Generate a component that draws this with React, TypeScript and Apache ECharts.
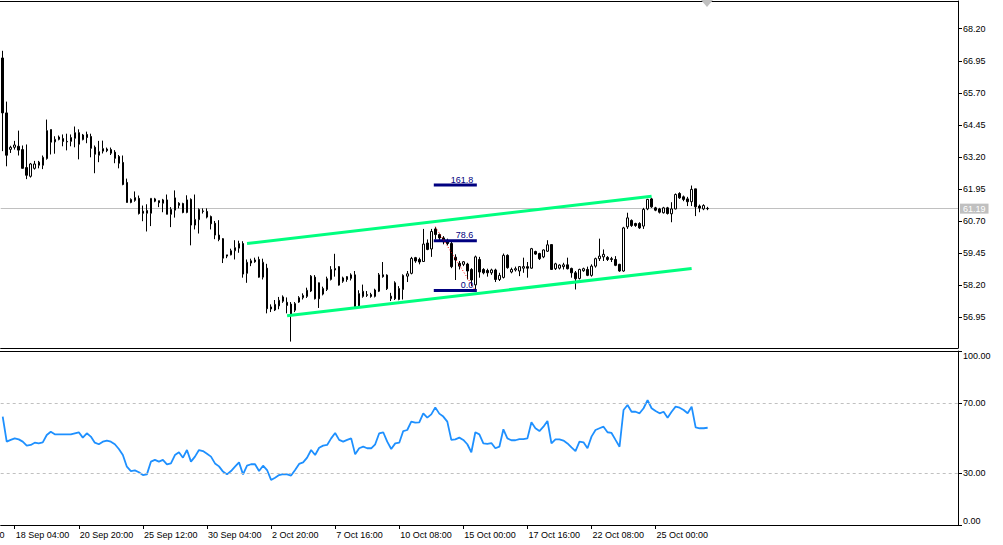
import React, { useEffect, useRef } from 'react';
import * as echarts from 'echarts';

const FONT = 'Liberation Sans';
const BAR_SLOTS = 239;
const CATEGORIES = Array.from({ length: BAR_SLOTS }, (_, i) => `bar ${i}`);
const TICK_BARS = [3, 19, 35, 51, 67, 83, 99, 115, 131, 147, 163];
const TICK_LABELS = ['18 Sep 04:00', '20 Sep 20:00', '25 Sep 12:00', '30 Sep 04:00', '2 Oct 20:00', '7 Oct 16:00', '10 Oct 08:00', '15 Oct 00:00', '17 Oct 16:00', '22 Oct 08:00', '25 Oct 00:00'];
const PRICE_TICKS = [56.95, 58.2, 59.45, 60.7, 61.95, 63.2, 64.45, 65.7, 66.95, 68.2];
const RSI_TICKS = [0, 30, 70, 100];
const RSI_LEVELS = [70, 30];
const LAST_PRICE = 61.19;

// [open, high, low, close]
const OHLC: number[][] = [
  [67.06, 67.34, 63.43, 64.92], [64.92, 65.36, 62.84, 63.27], [63.5, 63.64, 63.36, 63.58], [63.58, 63.83, 63.49, 63.67],
  [63.62, 64.23, 63.26, 63.47], [63.49, 63.65, 62.76, 62.76], [62.79, 63.69, 62.34, 62.49], [62.45, 62.97, 62.4, 62.93],
  [62.76, 63.05, 62.71, 62.93], [62.88, 63.05, 62.76, 63.0], [62.88, 63.26, 62.73, 63.19], [63.14, 64.66, 63.1, 64.23],
  [64.27, 64.27, 63.3, 63.78], [63.79, 64.01, 63.33, 63.89], [63.98, 64.04, 63.85, 63.89], [63.92, 64.08, 63.62, 63.81],
  [63.81, 64.11, 63.46, 63.79], [63.81, 64.08, 63.62, 63.96], [63.93, 64.39, 63.58, 64.15], [64.15, 64.28, 63.11, 63.7],
  [63.88, 64.1, 63.85, 64.06], [64.08, 64.19, 63.74, 63.96], [64.0, 64.11, 63.19, 63.54], [63.58, 63.65, 62.57, 63.31],
  [63.27, 63.83, 63.0, 63.41], [63.43, 63.84, 63.34, 63.53], [63.51, 63.57, 63.39, 63.45], [63.49, 63.57, 63.28, 63.35],
  [63.39, 63.47, 62.96, 63.15], [63.22, 63.28, 62.76, 62.96], [62.99, 63.26, 62.1, 62.13], [62.21, 62.36, 61.43, 61.43],
  [61.43, 61.59, 61.4, 61.55], [61.51, 61.86, 61.46, 61.62], [61.59, 61.7, 60.96, 61.0], [61.09, 61.31, 60.7, 61.01],
  [61.01, 61.36, 60.3, 61.12], [61.01, 61.59, 60.51, 61.59], [61.57, 61.61, 61.44, 61.48], [61.5, 61.5, 61.25, 61.42],
  [61.4, 61.57, 61.05, 61.53], [61.53, 61.74, 60.97, 60.97], [60.97, 61.25, 60.47, 61.16], [61.13, 61.9, 60.84, 61.61],
  [61.4, 61.44, 61.2, 61.32], [61.39, 61.42, 61.01, 61.04], [61.04, 61.71, 61.01, 61.53], [61.55, 61.59, 59.76, 60.55],
  [60.55, 61.74, 60.38, 60.77], [60.76, 61.2, 60.22, 61.16], [61.08, 61.2, 61.0, 61.1], [61.08, 61.2, 60.81, 60.86],
  [60.88, 60.92, 60.38, 60.6], [60.62, 60.71, 60.0, 60.16], [60.16, 60.74, 59.92, 59.99], [60.02, 60.04, 59.07, 59.26],
  [59.34, 59.39, 59.26, 59.39], [59.39, 59.63, 59.37, 59.55], [59.55, 59.96, 59.21, 59.67], [59.65, 59.94, 59.47, 59.83],
  [59.83, 59.92, 58.5, 58.64], [58.67, 59.21, 58.3, 59.1], [59.07, 59.24, 58.95, 59.16], [59.19, 59.28, 59.08, 59.12],
  [59.21, 59.32, 58.5, 58.52], [58.52, 59.24, 58.43, 59.1], [58.87, 59.04, 57.11, 57.29], [57.36, 57.46, 57.16, 57.28],
  [57.24, 57.63, 57.2, 57.46], [57.4, 57.75, 57.27, 57.62], [57.58, 57.81, 57.52, 57.75], [57.54, 57.73, 57.11, 57.42],
  [57.47, 57.55, 56.01, 57.05], [57.23, 57.55, 57.16, 57.49], [57.55, 57.78, 57.52, 57.72], [57.72, 57.89, 57.65, 57.81],
  [57.77, 58.11, 57.71, 58.01], [57.98, 58.6, 57.94, 58.56], [58.52, 58.6, 57.65, 57.68], [58.3, 58.31, 57.32, 57.68],
  [57.86, 58.15, 57.81, 58.08], [58.04, 58.54, 57.98, 58.46], [58.43, 58.95, 58.39, 58.82], [58.8, 59.43, 58.54, 58.86],
  [58.93, 58.95, 58.19, 58.21], [58.36, 58.54, 58.3, 58.49], [58.54, 58.56, 58.34, 58.43], [58.47, 58.67, 58.39, 58.61],
  [58.61, 58.76, 57.29, 57.37], [57.4, 58.01, 57.36, 57.88], [57.77, 58.23, 57.72, 57.97], [57.81, 57.98, 57.75, 57.84],
  [57.84, 57.91, 57.72, 57.77], [57.77, 58.07, 57.73, 58.02], [57.97, 58.68, 57.94, 58.61], [58.61, 59.11, 58.5, 58.54],
  [58.6, 58.63, 58.02, 58.07], [57.68, 57.91, 57.59, 57.78], [58.3, 58.36, 57.63, 57.68], [57.65, 58.17, 57.62, 58.08],
  [58.04, 58.63, 57.65, 58.59], [58.56, 58.76, 58.33, 58.65], [58.67, 59.31, 58.63, 59.25], [59.28, 59.31, 59.08, 59.15],
  [59.21, 59.28, 59.02, 59.11], [59.13, 60.4, 59.11, 59.81], [59.85, 59.99, 59.57, 59.6], [59.62, 60.4, 59.31, 60.3],
  [60.4, 60.48, 59.99, 60.18], [60.18, 60.22, 59.92, 60.05], [60.05, 60.12, 59.8, 59.9], [59.94, 60.02, 59.76, 59.83],
  [59.83, 59.89, 58.87, 58.93], [59.3, 59.41, 58.41, 59.19], [59.06, 59.15, 58.82, 58.95], [59.02, 59.15, 58.95, 59.12],
  [59.03, 59.08, 58.43, 58.76], [58.82, 58.87, 58.17, 58.41], [58.22, 59.36, 58.0, 59.31], [59.21, 59.31, 58.5, 58.72],
  [58.82, 58.87, 58.63, 58.69], [58.78, 58.85, 58.54, 58.69], [58.69, 58.85, 58.61, 58.8], [58.8, 58.85, 58.33, 58.43],
  [58.43, 58.69, 58.37, 58.59], [58.51, 59.44, 58.47, 59.37], [59.37, 59.41, 58.85, 58.89], [58.72, 58.89, 58.67, 58.82],
  [58.8, 58.93, 58.74, 58.85], [58.76, 58.95, 58.56, 58.93], [58.87, 59.28, 58.69, 58.93], [58.93, 59.11, 58.5, 58.87],
  [58.87, 59.66, 58.85, 59.63], [59.52, 59.55, 59.39, 59.42], [59.44, 59.47, 59.19, 59.24], [59.31, 59.6, 59.26, 59.58],
  [59.53, 59.96, 59.5, 59.78], [59.79, 59.79, 58.8, 58.82], [58.85, 59.08, 58.8, 59.04], [58.87, 59.02, 58.82, 58.99],
  [58.93, 59.08, 58.82, 59.0], [59.0, 59.28, 58.82, 58.85], [58.86, 58.89, 58.5, 58.69], [58.69, 58.76, 58.04, 58.46],
  [58.47, 58.85, 58.43, 58.82], [58.77, 58.89, 58.73, 58.85], [58.82, 58.93, 58.56, 58.59], [58.59, 59.02, 58.54, 58.95],
  [58.95, 59.28, 58.89, 59.24], [59.24, 60.02, 59.15, 59.34], [59.31, 59.6, 59.15, 59.41], [59.29, 59.34, 59.15, 59.21],
  [59.24, 59.31, 59.11, 59.21], [59.21, 59.34, 58.95, 58.98], [59.02, 59.04, 58.73, 58.76], [58.76, 60.48, 58.73, 60.44],
  [60.48, 61.03, 60.4, 60.83], [60.73, 60.77, 60.48, 60.53], [60.61, 60.64, 60.48, 60.53], [60.61, 60.66, 60.4, 60.44],
  [60.51, 61.22, 60.4, 61.16], [61.18, 61.57, 61.13, 61.55], [61.57, 61.61, 61.22, 61.26], [61.22, 61.26, 61.09, 61.13],
  [61.18, 61.22, 61.0, 61.05], [61.03, 61.26, 61.0, 61.22], [61.22, 61.26, 60.96, 61.0], [60.99, 61.44, 60.66, 61.18],
  [61.18, 61.78, 61.16, 61.74], [61.78, 61.83, 61.57, 61.61], [61.65, 61.7, 61.48, 61.55], [61.57, 61.65, 61.29, 61.46],
  [61.46, 62.09, 61.29, 61.94], [61.96, 61.96, 60.9, 61.26], [61.29, 61.35, 61.05, 61.21], [61.18, 61.36, 61.13, 61.31],
  [61.2, 61.26, 61.13, 61.19],
];

const RSI = [
  62.3, 47.9, 48.9, 49.8, 49.2, 47.9, 45.6, 46.0, 47.3, 46.9, 47.5, 51.7, 53.6, 52.1, 52.1, 52.1, 52.1, 52.1, 52.7, 53.3,
  50.2, 52.7, 50.8, 47.3, 46.4, 47.9, 48.5, 47.9, 46.4, 43.7, 40.2, 33.5, 31.0, 31.4, 30.3, 28.7, 29.1, 36.4, 37.4, 36.4,
  37.4, 34.9, 35.4, 40.2, 41.8, 38.7, 43.1, 36.4, 39.3, 43.1, 42.5, 41.0, 39.3, 35.4, 33.7, 30.7, 29.1, 31.0, 33.5, 36.0,
  29.1, 34.1, 34.9, 34.9, 31.0, 34.1, 31.6, 25.9, 27.2, 28.7, 29.3, 29.1, 28.4, 31.6, 35.1, 36.0, 38.7, 43.1, 40.2, 44.4,
  45.6, 46.0, 49.8, 52.9, 48.9, 47.9, 48.9, 49.8, 40.6, 44.1, 45.0, 44.1, 44.1, 46.4, 52.7, 53.3, 47.9, 43.7, 46.9, 47.3,
  54.0, 54.6, 59.4, 58.8, 59.0, 64.2, 61.7, 63.6, 67.6, 64.0, 62.3, 59.4, 48.9, 49.2, 50.2, 48.9, 46.4, 41.8, 53.3, 52.1,
  46.9, 46.6, 47.1, 44.1, 45.0, 55.0, 49.8, 48.7, 48.7, 49.4, 49.4, 49.8, 59.0, 55.6, 54.0, 56.5, 59.8, 46.9, 49.2, 49.2,
  48.5, 46.9, 44.6, 42.5, 47.9, 47.5, 44.1, 50.8, 54.6, 55.6, 56.5, 53.3, 52.9, 48.9, 45.0, 66.1, 69.0, 65.1, 65.1, 64.2,
  67.1, 71.8, 67.1, 65.5, 64.2, 65.1, 61.7, 65.1, 68.0, 67.4, 66.1, 64.2, 68.0, 56.1, 55.6, 55.6, 55.9,
];

const CHANNEL_UPPER = [[61, 59.83], [162, 61.67]];
const CHANNEL_LOWER = [[71, 57.02], [172, 58.86]];
const FIB_POINTS = [[108, 60.48], [113, 59.24], [118, 58.0]];
const FIB_SPAN = [108, 118];
const FIB_LABELS = ['0.0', '78.6', '161.8'];
const FIB_PRICES = [58.0, 59.94, 62.11];

export default function App() {
  const ref = useRef<HTMLDivElement>(null);
  useEffect(() => {
    if (!ref.current) return;
    const chart = echarts.init(ref.current, undefined, { renderer: 'svg' });
    const isTick = (i: number) => TICK_BARS.indexOf(i) >= 0;
    const fibSeries = FIB_PRICES.map((p, k) => ({
      type: 'line',
      xAxisIndex: 0,
      yAxisIndex: 0,
      z: 4,
      silent: true,
      symbol: 'circle',
      symbolSize: 0,
      showSymbol: true,
      lineStyle: { color: '#000080', width: 3, cap: 'square' },
      itemStyle: { color: '#000080' },
      data: [
        [FIB_SPAN[0], p],
        {
          value: [FIB_SPAN[1], p],
          label: {
            show: true,
            formatter: FIB_LABELS[k],
            position: 'top',
            align: 'right',
            distance: 1,
            offset: [-2, 0],
            color: '#000080',
            fontSize: 9,
            fontFamily: FONT,
          },
        },
      ],
    }));
    const option: any = {
      animation: false,
      backgroundColor: '#ffffff',
      grid: [
        { left: 0.7, top: 1, width: 957.3, height: 347 },
        { left: 0.7, top: 351, width: 957.3, height: 174 },
      ],
      xAxis: [
        {
          type: 'category', gridIndex: 0, data: CATEGORIES, boundaryGap: true,
          axisLine: { show: true, lineStyle: { color: '#000', width: 1 } },
          axisTick: { show: false }, axisLabel: { show: false }, splitLine: { show: false },
        },
        {
          type: 'category', gridIndex: 1, data: CATEGORIES, boundaryGap: true,
          axisLine: { show: true, lineStyle: { color: '#000', width: 1 } },
          axisTick: { show: true, interval: (i: number) => isTick(i), alignWithLabel: true, length: 4, lineStyle: { color: '#000' } },
          axisLabel: {
            show: true,
            interval: (i: number) => isTick(i),
            formatter: (_v: string, i: number) => TICK_LABELS[TICK_BARS.indexOf(i)] ?? '',
            align: 'left',
            margin: 5,
            padding: [0, 0, 0, 1],
            color: '#000',
            fontSize: 9,
            fontFamily: FONT,
          },
          splitLine: { show: false },
        },
      ],
      yAxis: [
        {
          type: 'value', gridIndex: 0, position: 'right', min: 55.76, max: 69.28, scale: true,
          axisLine: { show: true, lineStyle: { color: '#000', width: 1 } },
          axisTick: { show: true, length: 4, customValues: PRICE_TICKS, lineStyle: { color: '#000' } },
          axisLabel: { customValues: PRICE_TICKS, formatter: (v: number) => v.toFixed(2), margin: 5, color: '#000', fontSize: 9, fontFamily: FONT },
          splitLine: { show: false },
        },
        {
          type: 'value', gridIndex: 1, position: 'right', min: 0, max: 100,
          axisLine: { show: true, lineStyle: { color: '#000', width: 1 } },
          axisTick: { show: true, length: 4, customValues: RSI_TICKS, lineStyle: { color: '#000' } },
          axisLabel: {
            customValues: RSI_TICKS, formatter: (v: number) => v.toFixed(2), margin: 5, color: '#000', fontSize: 9, fontFamily: FONT,
            verticalAlignMaxLabel: 'top', verticalAlignMinLabel: 'bottom',
          },
          splitLine: { show: false },
        },
      ],
      series: [
        {
          type: 'candlestick', xAxisIndex: 0, yAxisIndex: 0, z: 3,
          data: OHLC.map(([o, h, l, c]) => [o, c, l, h]),
          barWidth: 2,
          itemStyle: { color: '#ffffff', color0: '#000000', borderColor: '#000000', borderColor0: '#000000', borderWidth: 1 },
          markLine: {
            silent: true, symbol: ['none', 'none'], z: 1,
            lineStyle: { color: '#c0c0c0', width: 1, type: 'solid' },
            label: {
              show: true, position: 'end', formatter: LAST_PRICE.toFixed(2), distance: 2,
              backgroundColor: '#c0c0c0', color: '#ffffff', padding: [1, 3, 0, 3], fontSize: 9, fontFamily: FONT,
            },
            data: [{ yAxis: LAST_PRICE }],
          },
        },
        {
          type: 'line', xAxisIndex: 0, yAxisIndex: 0, z: 5, silent: true, symbol: 'none',
          lineStyle: { color: '#00ff7f', width: 3 }, data: CHANNEL_UPPER,
        },
        {
          type: 'line', xAxisIndex: 0, yAxisIndex: 0, z: 5, silent: true, symbol: 'none',
          lineStyle: { color: '#00ff7f', width: 3 }, data: CHANNEL_LOWER,
        },
        ...fibSeries,
        {
          type: 'line', xAxisIndex: 0, yAxisIndex: 0, z: 6, silent: true,
          symbol: 'rect', symbolSize: 4, showSymbol: true,
          lineStyle: { color: '#ff0000', width: 1, type: [1, 2] },
          itemStyle: { color: '#000000', borderColor: '#ff0000', borderWidth: 1.2 },
          data: FIB_POINTS,
        },
        {
          type: 'line', xAxisIndex: 1, yAxisIndex: 1, silent: true, showSymbol: false,
          lineStyle: { color: '#1e90ff', width: 1.8 },
          data: RSI,
          markLine: {
            silent: true, symbol: ['none', 'none'],
            lineStyle: { color: '#c0c0c0', width: 1, type: [3, 3] },
            label: { show: false },
            data: RSI_LEVELS.map((v) => ({ yAxis: v })),
          },
        },
      ],
      graphic: [
        { type: 'line', silent: true, z: 10, shape: { x1: 0, y1: 1.5, x2: 958, y2: 1.5 }, style: { stroke: '#000', lineWidth: 1 } },
        { type: 'line', silent: true, z: 10, shape: { x1: 0, y1: 351.5, x2: 958, y2: 351.5 }, style: { stroke: '#000', lineWidth: 1 } },
        { type: 'polygon', silent: true, z: 11, shape: { points: [[701, 0], [713, 0], [707, 7]] }, style: { fill: '#c0c0c0' } },
        { type: 'text', silent: true, z: 10, x: 4.5, y: 530, style: { text: '0', fontSize: 9, fontFamily: FONT, fill: '#000', align: 'right', verticalAlign: 'top' } },
      ],
    };
    chart.setOption(option);
    return () => chart.dispose();
  }, []);
  return <div ref={ref} style={{ position: 'absolute', left: 0, top: 0, width: 1003, height: 545 }} />;
}
